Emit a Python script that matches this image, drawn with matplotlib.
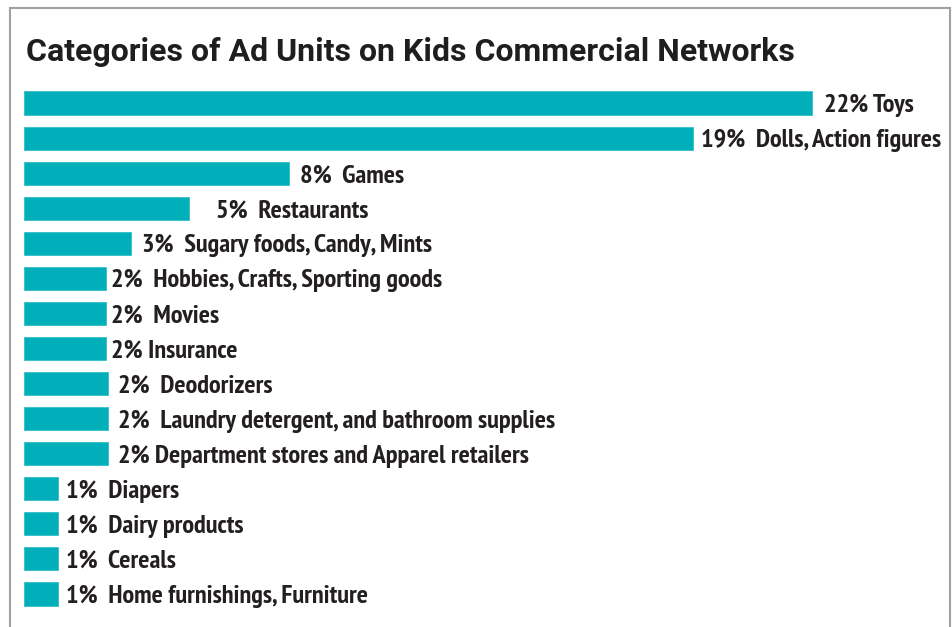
import matplotlib.pyplot as plt
from matplotlib import font_manager as fm
from matplotlib.patches import Rectangle

categories = ["Toys", "Dolls, Action figures", "Games", "Restaurants",
              "Sugary foods, Candy, Mints", "Hobbies, Crafts, Sporting goods",
              "Movies", "Insurance", "Deodorizers",
              "Laundry detergent, and bathroom supplies",
              "Department stores and Apparel retailers", "Diapers",
              "Dairy products", "Cereals", "Home furnishings, Furniture"]
pct_labels = ["22%", "19%", "8%", "5%", "3%", "2%", "2%", "2%", "2%", "2%",
              "2%", "1%", "1%", "1%", "1%"]
# bar lengths as drawn in the source graphic (percent)
values = [22.0, 18.7, 7.4, 4.6, 3.0, 2.3, 2.3, 2.3, 2.35, 2.35, 2.35,
          0.95, 0.95, 0.95, 0.95]
# spacing between the percent and the name, as typeset in the original
seps = [" ", "  ", "  ", "  ", "  ", "  ", "  ", " ", "  ", "  ", " ",
        "  ", "  ", "  ", "  "]
label_pad = [12, 8, 11, 27, 11, 5, 5, 5, 10, 10, 10, 8, 8, 8, 8]


def font_file(name):
    for f in fm.fontManager.ttflist:
        if f.fname.endswith(name):
            return fm.FontProperties(fname=f.fname)
    return fm.FontProperties(family="DejaVu Sans", weight="bold")


title_font = font_file("Roboto-Bold.ttf")
label_font = font_file("PT_Sans-Narrow-Web-Bold.ttf")

W, H = 953, 627
fig = plt.figure(figsize=(W / 100, H / 100), dpi=100)

# grey frame around the graphic
fig.patches.append(Rectangle((10 / W, -0.1), 940 / W, 1.1 - 8 / H,
                             transform=fig.transFigure, fill=False,
                             edgecolor="#a0a0a0", linewidth=1.5))

fig.text(26 / W, 1 - 52 / H, "Categories of Ad Units on Kids Commercial Networks",
         fontproperties=title_font, fontsize=23, color="#1e1e1e",
         va="center", ha="left")

ax = fig.add_axes([24 / W, 1 - 611.5 / H, 926 / W, 526 / H])
y = list(range(len(values)))
ax.barh(y, values, height=0.66, color="#00afb9", edgecolor="#33c0c8",
        linewidth=0.6)
ax.set_xlim(0, 926 / 35.8)
ax.set_ylim(len(values) - 0.5, -0.5)
ax.axis("off")

for i, v in enumerate(values):
    ax.annotate(pct_labels[i] + seps[i] + categories[i], (v, i),
                xytext=(label_pad[i], 0), textcoords="offset pixels",
                va="center_baseline", ha="left", fontproperties=label_font,
                fontsize=19, color="#231f20")

fig.savefig("out.png", dpi=100)
